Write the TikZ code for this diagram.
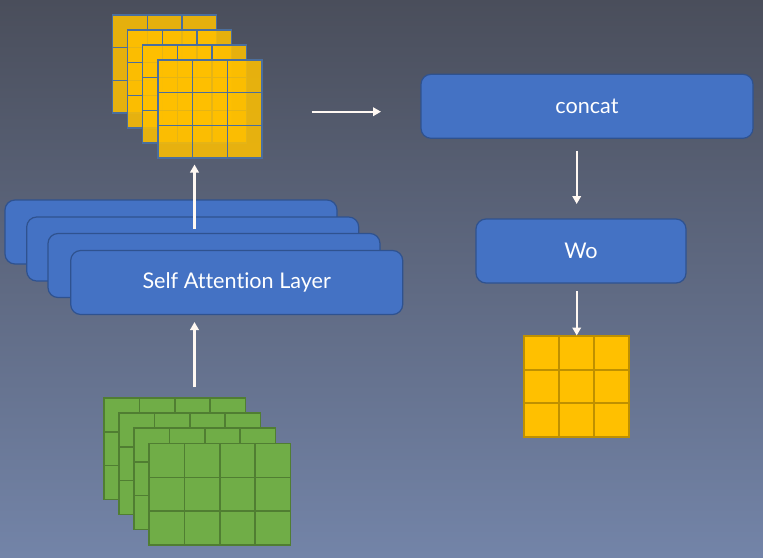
\documentclass[tikz,border=0pt]{standalone}
\usepackage{fontspec}
\setmainfont{Lato}[Ligatures=NoCommon]
\usetikzlibrary{arrows.meta,calc}
\definecolor{bgtop}{HTML}{4A4E5B}
\definecolor{bgbot}{HTML}{7384A8}
\definecolor{boxblue}{HTML}{4472C4}
\definecolor{boxline}{HTML}{2F528F}
\definecolor{gold}{HTML}{FFC000}
\definecolor{goldline}{HTML}{BF9000}
\definecolor{stackline}{HTML}{4A6E9E}
\definecolor{leaf}{HTML}{70AD47}
\definecolor{leafline}{HTML}{507E32}
\definecolor{arrowc}{HTML}{FFF8F2}
\tikzset{
  gridlines/.style n args={3}{path picture={
    \foreach \i in {1,...,#1}{
      \ifnum\i<#1\relax
      \draw[#3] ($(path picture bounding box.north west)!\i/#1!(path picture bounding box.north east)$)
        -- ($(path picture bounding box.south west)!\i/#1!(path picture bounding box.south east)$);
      \fi}
    \foreach \j in {1,...,#2}{
      \ifnum\j<#2\relax
      \draw[#3] ($(path picture bounding box.north west)!\j/#2!(path picture bounding box.south west)$)
        -- ($(path picture bounding box.north east)!\j/#2!(path picture bounding box.south east)$);
      \fi}
  }},
  cell/.style={rectangle, inner sep=0pt, outer sep=0pt, anchor=north west},
  ystack/.style={cell, fill=gold, fill opacity=0.86, draw=stackline, line width=1.3pt,
    minimum width=104pt, minimum height=98pt,
    gridlines={3}{3}{stackline, line width=1.3pt}},
  gstack/.style={cell, fill=leaf, draw=leafline, line width=1.6pt,
    minimum width=141.5pt, minimum height=101.5pt,
    gridlines={4}{3}{leafline, line width=1.6pt}},
  ygrid/.style={cell, fill=gold, draw=goldline, line width=1.9pt,
    minimum width=105pt, minimum height=101.6pt,
    gridlines={3}{3}{goldline, line width=1.9pt}},
  bluebox/.style={rectangle, rounded corners=10pt, fill=boxblue, draw=boxline,
    line width=1.2pt, inner sep=0pt, outer sep=0pt, anchor=north west,
    minimum height=64pt, text=white, font=\fontsize{21.6}{26}\selectfont},
  flow/.style={draw=arrowc, line width=2.4pt, -{Triangle[width=8.5pt,length=8pt]}}
}
\begin{document}
\begin{tikzpicture}[x=1pt,y=-1pt]
\useasboundingbox (0,0) rectangle (763,557);
\shade[top color=bgtop, bottom color=bgbot] (0,0) rectangle (763,557);
% yellow stack
\node[ystack] (y1) at (112.7,15) {};
\node[ystack] (y2) at (127.7,30) {};
\node[ystack] (y3) at (142.7,45) {};
\node[ystack] (y4) at (158,60) {};
% green stack
\node[gstack] (g1) at (104,398) {};
\node[gstack] (g2) at (119,413) {};
\node[gstack] (g3) at (134,428) {};
\node[gstack] (g4) at (149,443.5) {};
% self attention layers
\node[bluebox, minimum width=332pt] (sa1) at (5,200) {};
\node[bluebox, minimum width=332pt] (sa2) at (26.7,217) {};
\node[bluebox, minimum width=332pt] (sa3) at (48,233.5) {};
\node[bluebox, minimum width=332pt] (sa4) at (70.7,250.5) {\raisebox{-1.5pt}{Self Attention Layer}};
% right side
\node[bluebox, minimum width=332pt] (concat) at (421,74.3) {\raisebox{-1.5pt}{concat}};
\node[bluebox, minimum width=210pt] (wo) at (476,219) {Wo};
\node[ygrid] (out) at (524.3,335.7) {};
% arrow end points
\coordinate (a1s) at (194.5,387);
\coordinate (a1e) at (194.5,322);
\coordinate (a2s) at (194.5,229);
\coordinate (a2e) at (194.5,164.5);
\coordinate (a3s) at (311.5,111.7);
\coordinate (a3e) at (381,111.7);
\coordinate (a4s) at (576.7,150.5);
\coordinate (a4e) at (576.7,204);
\coordinate (a5s) at (576.7,291);
\coordinate (a5e) at (576.7,335.5);
\draw[flow] (a1s) -- (a1e);
\draw[flow] (a2s) -- (a2e);
\draw[flow] (a3s) -- (a3e);
\draw[flow] (a4s) -- (a4e);
\draw[flow] (a5s) -- (a5e);
\end{tikzpicture}
\end{document}
